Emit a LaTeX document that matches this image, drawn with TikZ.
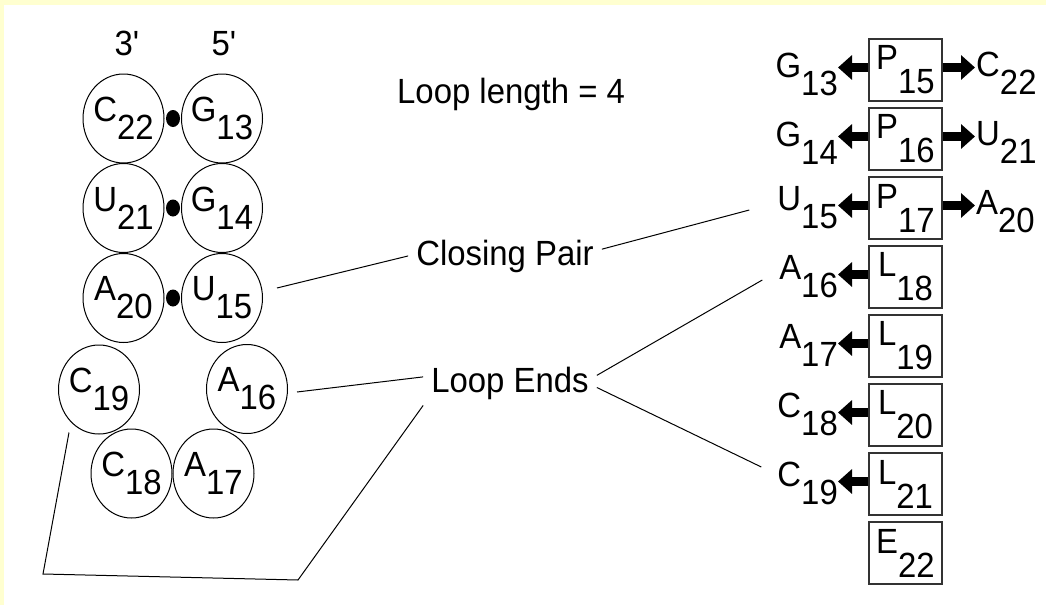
\documentclass[tikz,border=0pt]{standalone}
\usepackage{fontspec}
\setmainfont{Liberation Sans}[FakeStretch=0.94]
\usetikzlibrary{shapes.geometric,arrows.meta,calc}
\definecolor{paper}{RGB}{255,255,208}
\newcommand\txtsize{\fontsize{35pt}{40pt}\selectfont}
% base letter followed by a lowered index of the same size
\newcommand\nt[3][18pt]{#2\raisebox{-#1}{#3}}

\begin{document}
\begin{tikzpicture}[x=1pt,y=-1pt,font=\txtsize,
  ring/.style={ellipse,draw=black,line width=1pt,minimum width=81pt,minimum height=89pt,inner sep=0pt},
  bond/.style={ellipse,fill=black,minimum width=14pt,minimum height=17pt,inner sep=0pt},
  cell/.style={draw=black!80,line width=1.4pt,minimum width=73pt,minimum height=62pt,inner sep=0pt},
  conn/.style={line width=1pt,black},
  ptr/.style={line width=9.5pt,-{Triangle[width=24pt,length=14pt]}},
  tag/.style={inner xsep=8pt,inner ysep=6pt,anchor=base},
  lside/.style={inner sep=0pt,anchor=base east},
  rside/.style={inner sep=0pt,anchor=base west}]

% page
\fill[paper] (0,0) rectangle (1046,605);
\fill[white] (4,5) rectangle (1046,605);
\useasboundingbox (0,0) rectangle (1046,605);

% strand ends
\node[anchor=base] (end3) at (127,55) {3\textquotesingle};
\node[anchor=base] (end5) at (224,55) {5\textquotesingle};

% stem and loop bases
\node[ring,label={center:\nt{C}{22}}] (c22) at (123.5,118.5) {};
\node[ring,label={center:\nt{G}{13}}] (g13) at (222,118.5) {};
\node[ring,label={center:\nt{U}{21}}] (u21) at (123.5,208) {};
\node[ring,label={center:\nt{G}{14}}] (g14) at (222,208) {};
\node[ring,label={center:\nt{A}{20}}] (a20) at (123.5,298) {};
\node[ring,label={center:\nt{U}{15}}] (u15) at (222,298) {};
\node[ring,label={center:\nt{C}{19}}] (c19) at (99,389.5) {};
\node[ring,label={center:\nt{A}{16}}] (a16) at (247,389) {};
\node[ring,label={center:\nt{C}{18}}] (c18) at (131.5,473.5) {};
\node[ring,label={center:\nt{A}{17}}] (a17) at (213.5,473.5) {};

% base-pair bonds
\node[bond] (bd1) at (173,118.5) {};
\node[bond] (bd2) at (173,208) {};
\node[bond] (bd3) at (173,298) {};

% captions
\node[anchor=base west,inner sep=0pt] (looplen) at (397,103) {Loop length = 4};
\node[tag] (closing) at (505,265) {Closing Pair};
\node[tag] (loopends) at (510,392) {Loop Ends};

% state column
\node[cell] (b1) at (905.5,70)  {\nt[24pt]{P}{15}};
\node[cell] (b2) at (905.5,139) {\nt[24pt]{P}{16}};
\node[cell] (b3) at (905.5,208) {\nt[24pt]{P}{17}};
\node[cell] (b4) at (905.5,277) {\nt[24pt]{L}{18}};
\node[cell] (b5) at (905.5,346) {\nt[24pt]{L}{19}};
\node[cell] (b6) at (905.5,415) {\nt[24pt]{L}{20}};
\node[cell] (b7) at (905.5,484) {\nt[24pt]{L}{21}};
\node[cell] (b8) at (905.5,553) {\nt[24pt]{E}{22}};

% partners on the left of the column
\node[lside] (la1) at (838,77)  {\nt{G}{13}};
\node[lside] (la2) at (838,146) {\nt{G}{14}};
\node[lside] (la3) at (838,210) {\nt{U}{15}};
\node[lside] (la4) at (838,279) {\nt{A}{16}};
\node[lside] (la5) at (838,348) {\nt{A}{17}};
\node[lside] (la6) at (838,417) {\nt{C}{18}};
\node[lside] (la7) at (838,486) {\nt{C}{19}};

% partners on the right of the column
\node[rside] (ra1) at (976,76)  {\nt{C}{22}};
\node[rside] (ra2) at (976,145) {\nt{U}{21}};
\node[rside] (ra3) at (976,214) {\nt{A}{20}};

% pointers
\foreach \i in {1,...,7}{
  \draw[ptr] ($(b\i.west)+(0,-2.5)$) -- ($(la\i.east |- b\i.west)+(0,-2.5)$);
}
\foreach \i in {1,2,3}{
  \draw[ptr] ($(b\i.east)+(0,-2.5)$) -- ($(ra\i.west |- b\i.east)+(-1,-2.5)$);
}

% callout lines
\draw[conn] (closing.west) -- ($(u15.east)+(14,-10)$);
\draw[conn] (closing.4) -- ($(b3.west)+(-119,2)$);
\draw[conn] (loopends.176) -- ($(a16.east)+(9,3)$);
\draw[conn] (loopends.5) -- ($(b4.west)+(-106,3)$);
\draw[conn] (loopends.-3) -- ($(b7.west)+(-107,-17)$);
\coordinate (k1) at (298,580);
\coordinate (k2) at (43,574);
\draw[conn] (loopends.south west) -- (k1) -- (k2) -- ($(c19)+(-30,43)$);
\end{tikzpicture}
\end{document}
